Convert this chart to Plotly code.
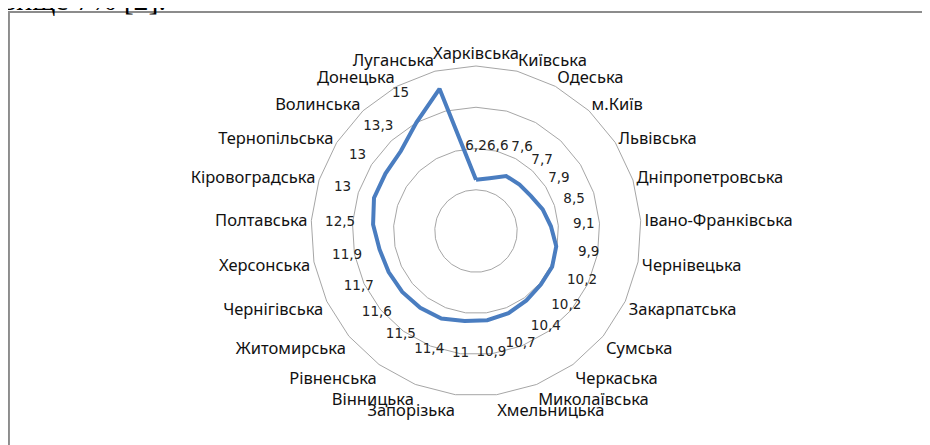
import plotly.graph_objects as go

regions = ["Харківська", "Київська", "Одеська", "м.Київ", "Львівська",
           "Дніпропетровська", "Івано-Франківська", "Чернівецька", "Закарпатська",
           "Сумська", "Черкаська", "Миколаївська", "Хмельницька", "Запорізька",
           "Вінницька", "Рівненська", "Житомирська", "Чернігівська", "Херсонська",
           "Полтавська", "Кіровоградська", "Тернопільська", "Волинська", "Донецька",
           "Луганська"]
values = [6.2, 6.6, 7.6, 7.7, 7.9, 8.5, 9.1, 9.9, 10.2, 10.2, 10.4, 10.7, 10.9,
          11.0, 11.4, 11.5, 11.6, 11.7, 11.9, 12.5, 13.0, 13.0, 13.3, 15.0, 17.8]
value_labels = [f"{v:g}".replace(".", ",") for v in values]
radial_ticks = [5, 10, 15, 20]

LABEL_OFFSET = 4.0  # data-label offset outward, in axis units

fig = go.Figure()
fig.add_trace(go.Scatterpolar(
    r=values + [values[0]], theta=regions + [regions[0]],
    mode="lines", line=dict(color="#4a7dc0", width=4),
    hoverinfo="skip", showlegend=False))
fig.add_trace(go.Scatterpolar(
    r=[v + LABEL_OFFSET for v in values], theta=regions,
    mode="text", text=value_labels,
    textfont=dict(family="DejaVu Sans", size=13.5, color="#222"),
    cliponaxis=False, hoverinfo="skip", showlegend=False))

W, H = 930, 445
OFF = 8  # page body margin
cx, cy, R = 476 - OFF, 231 - OFF, 165
fig.update_layout(
    width=W, height=H,
    margin=dict(l=0, r=0, t=0, b=0),
    paper_bgcolor="white", plot_bgcolor="white",
    polar=dict(
        domain=dict(x=[(cx - R) / W, (cx + R) / W],
                    y=[(H - cy - R) / H, (H - cy + R) / H]),
        bgcolor="white",
        gridshape="linear",
        radialaxis=dict(range=[0, 20], tickvals=radial_ticks, showticklabels=False,
                        ticks="", showline=False, gridcolor="#a6a6a6", gridwidth=1),
        angularaxis=dict(direction="clockwise", rotation=90, showgrid=False,
                         showline=True, linecolor="#a6a6a6", linewidth=1, ticks="",
                         tickfont=dict(family="Noto Sans", size=16.5, color="#111")),
    ),
    shapes=[dict(type="rect", xref="paper", yref="paper",
                 x0=(8 - OFF) / W + 0.001, x1=1.02, y0=-0.02, y1=(H - (12 - OFF)) / H,
                 line=dict(color="#8c8c8c", width=2))],
    annotations=[dict(text="вище 7% [2].", xref="paper", yref="paper",
                      x=-OFF / W, y=(H + OFF + 1) / H, xanchor="left", yanchor="middle",
                      showarrow=False,
                      font=dict(family="Liberation Serif", size=30, color="#000"))],
)
fig.write_html("out.html")
